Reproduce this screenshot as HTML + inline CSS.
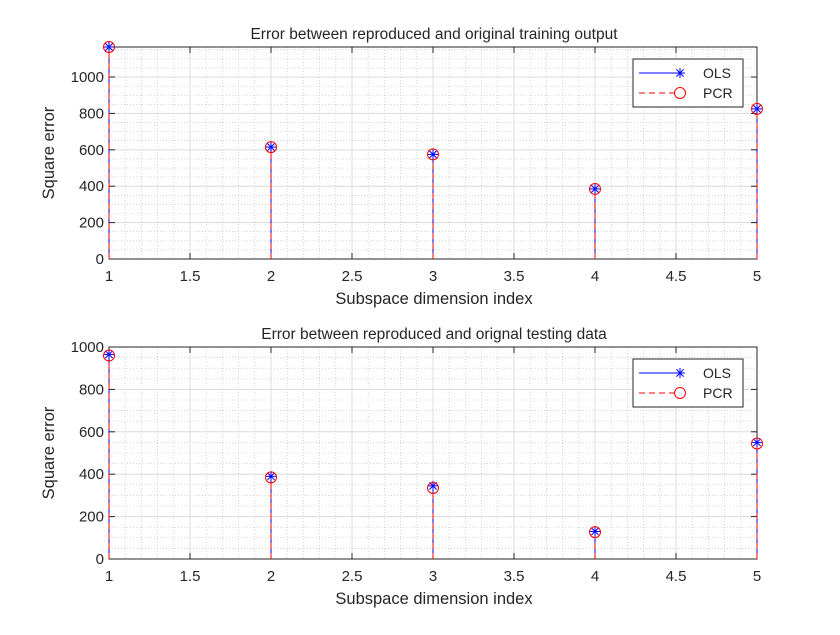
<!DOCTYPE html>
<html><head><meta charset="utf-8"><style>
body{margin:0;background:#fff}
text{font-family:"Liberation Sans",Arial,sans-serif;fill:#262626}
</style></head><body>
<svg id="c" width="840" height="630" xmlns="http://www.w3.org/2000/svg"></svg>
<script>
const categories=[1,2,3,4,5];
const trainOLS=[1165,615,575,385,825];
const trainPCR=[1165,615,575,385,825];
const testOLS=[965,390,345,130,550];
const testPCR=[960,385,335,127,545];
const xTicks=[1,1.5,2,2.5,3,3.5,4,4.5,5];
const yTicksTop=[0,200,400,600,800,1000];
const yTicksBot=[0,200,400,600,800,1000];
const NS="http://www.w3.org/2000/svg";
const svg=document.getElementById('c');
function mk(t,a,p){const e=document.createElementNS(NS,t);for(const k in a)e.setAttribute(k,a[k]);(p||svg).appendChild(e);return e;}
function panel(o){
  const g=mk('g',{});
  
  
  const L=109,R=757,T=o.top,B=o.bottom;
  const xs=v=>L+(v-1)/4*(R-L);
  const ys=v=>B-v/o.ymax*(B-T);
  mk('rect',{x:L,y:T,width:R-L,height:B-T,fill:'#fff'},g);
  for(let v=1;v<=5.0001;v+=0.1){const x=xs(v);mk('line',{x1:x,x2:x,y1:T,y2:B,stroke:'#bbb','stroke-width':0.6,'stroke-dasharray':'1 2'},g);}
  for(let v=0;v<=o.ymax;v+=50){const y=ys(v);mk('line',{x1:L,x2:R,y1:y,y2:y,stroke:'#bbb','stroke-width':0.6,'stroke-dasharray':'1 2'},g);}
  xTicks.forEach(v=>{const x=xs(v);mk('line',{x1:x,x2:x,y1:T,y2:B,stroke:'#dcdcdc','stroke-width':1},g);
    mk('line',{x1:x,x2:x,y1:B,y2:B-6,stroke:'#262626'},g);mk('line',{x1:x,x2:x,y1:T,y2:T+6,stroke:'#262626'},g);
    const t=mk('text',{x:x,y:B+22,'text-anchor':'middle','font-size':15},g);t.textContent=v;
    
    });
  o.yt.forEach(v=>{const y=ys(v);mk('line',{x1:L,x2:R,y1:y,y2:y,stroke:'#dcdcdc','stroke-width':1},g);
    mk('line',{x1:L,x2:L+6,y1:y,y2:y,stroke:'#262626'},g);mk('line',{x1:R,x2:R-6,y1:y,y2:y,stroke:'#262626'},g);
    const t=mk('text',{x:L-5,y:y+5,'text-anchor':'end','font-size':15},g);t.textContent=v;
    
    });
  mk('rect',{x:L,y:T,width:R-L,height:B-T,fill:'none',stroke:'#262626','stroke-width':1},g);
  categories.forEach((c,i)=>{
    const x=xs(c);
    const s1=mk('line',{x1:x,x2:x,y1:B,y2:ys(o.ols[i]),stroke:'#0000ff','stroke-width':1},g);
    
    
    const s2=mk('line',{x1:x,x2:x,y1:B,y2:ys(o.pcr[i]),stroke:'#ff0000','stroke-width':1,'stroke-dasharray':'6 4'},g);
    
    
    const y1=ys(o.ols[i]);
    const st=mk('g',{stroke:'#0000ff','stroke-width':1},g);
    
    
    mk('line',{x1:x-5,x2:x+5,y1:y1,y2:y1},st);mk('line',{x1:x,x2:x,y1:y1-5,y2:y1+5},st);
    mk('line',{x1:x-3.6,x2:x+3.6,y1:y1-3.6,y2:y1+3.6},st);mk('line',{x1:x-3.6,x2:x+3.6,y1:y1+3.6,y2:y1-3.6},st);
    const ci=mk('circle',{cx:x,cy:ys(o.pcr[i]),r:5.5,fill:'none',stroke:'#ff0000','stroke-width':1},g);
    
    
  });
  const t=mk('text',{x:434,y:T-8,'text-anchor':'middle','font-size':15.5,fill:'#000'},g);t.textContent=o.title;
  
  
  const xl=mk('text',{x:434,y:B+45,'text-anchor':'middle','font-size':16.5},g);xl.textContent='Subspace dimension index';
  
  
  const yc=(T+B)/2;
  const yl=mk('text',{x:54,y:yc,'text-anchor':'middle','font-size':16.5,transform:`rotate(-90 54 ${yc})`},g);yl.textContent='Square error';
  
  
  const lg=mk('g',{},g);
  
  
  const ly=T+12;
  mk('rect',{x:633,y:ly,width:110,height:48,fill:'#fff',stroke:'#262626','stroke-width':1},lg);
  mk('line',{x1:639,x2:680,y1:ly+14,y2:ly+14,stroke:'#0000ff'},lg);
  const sx=680,sy=ly+14;
  mk('line',{x1:sx-5,x2:sx+5,y1:sy,y2:sy,stroke:'#0000ff'},lg);mk('line',{x1:sx,x2:sx,y1:sy-5,y2:sy+5,stroke:'#0000ff'},lg);
  mk('line',{x1:sx-3.6,x2:sx+3.6,y1:sy-3.6,y2:sy+3.6,stroke:'#0000ff'},lg);mk('line',{x1:sx-3.6,x2:sx+3.6,y1:sy+3.6,y2:sy-3.6,stroke:'#0000ff'},lg);
  mk('line',{x1:639,x2:680,y1:ly+34,y2:ly+34,stroke:'#ff0000','stroke-dasharray':'6 4'},lg);
  mk('circle',{cx:680,cy:ly+34,r:5.5,fill:'#fff',stroke:'#ff0000'},lg);
  const a=mk('text',{x:703,y:ly+19,'font-size':14,fill:'#000'},lg);a.textContent='OLS';
  const b=mk('text',{x:703,y:ly+39,'font-size':14,fill:'#000'},lg);b.textContent='PCR';
}
panel({name:'training-error-plot',top:47,bottom:259,ymax:1165,yt:yTicksTop,ols:trainOLS,pcr:trainPCR,title:'Error between reproduced and original training output'});
panel({name:'testing-error-plot',top:347,bottom:559,ymax:1000,yt:yTicksBot,ols:testOLS,pcr:testPCR,title:'Error between reproduced and orignal testing data'});
</script>
</body></html>
